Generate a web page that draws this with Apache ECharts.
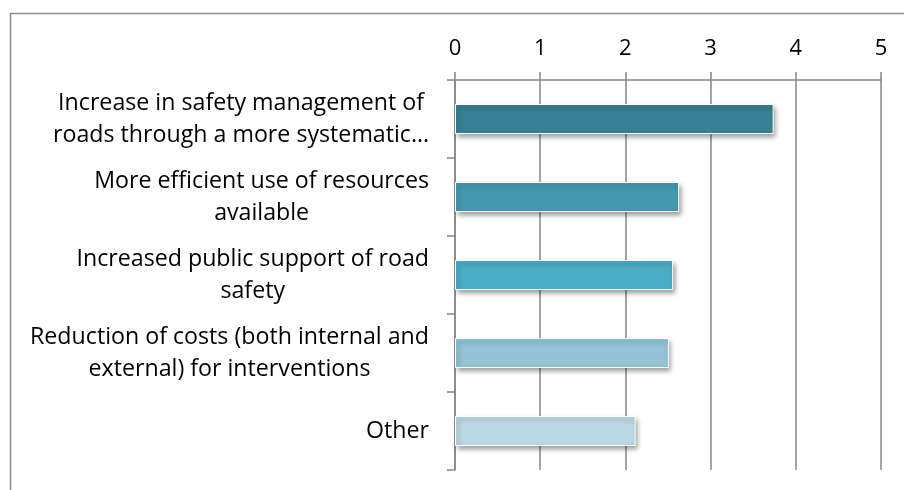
<!DOCTYPE html>
<html><head><meta charset="utf-8">
<script src="https://cdn.jsdelivr.net/npm/echarts@6/dist/echarts.min.js"></script>
<style>html,body{margin:0;padding:0;background:#fff}#c{width:904px;height:490px}</style>
</head><body><div id="c"></div>
<script>
const categories = [
  "Increase in safety management of\nroads through a more systematic…",
  "More efficient use of resources\navailable",
  "Increased public support of road\nsafety",
  "Reduction of costs (both internal and\nexternal) for interventions",
  "Other"
];
const values = [3.74, 2.63, 2.56, 2.51, 2.12];
const barColors = ["#378194", "#4498b0", "#4bacc6", "#93c3d5", "#bcd8e4"];
const xTicks = [0, 1, 2, 3, 4, 5];

const chart = echarts.init(document.getElementById('c'));
const FONT = 'Open Sans';
chart.setOption({
  animation: false,
  graphic: [{
    type: 'rect', shape: { x: 10.5, y: 13.5, width: 1000, height: 600 },
    style: { fill: 'none', stroke: '#8c8c8c', lineWidth: 1.5 }, silent: true
  }],
  grid: { left: 455, right: 23, top: 80, bottom: 20 },
  xAxis: {
    type: 'value', position: 'top', min: xTicks[0], max: xTicks[xTicks.length - 1], interval: 1,
    axisLine: { show: true, lineStyle: { color: '#868686', width: 1.5 } },
    axisTick: { show: true, length: 8, lineStyle: { color: '#868686', width: 1.5 } },
    splitLine: { show: true, lineStyle: { color: '#868686', width: 1.5 } },
    axisLabel: { color: '#000', fontFamily: FONT, fontSize: 22, margin: 20 }
  },
  yAxis: {
    type: 'category', inverse: true, data: categories,
    axisLine: { show: true, lineStyle: { color: '#868686', width: 1.5 } },
    axisTick: { show: true, length: 8, lineStyle: { color: '#868686', width: 1.5 } },
    axisLabel: {
      color: '#000', margin: 26, align: 'right',
      formatter: function (v) { return v.split('\n').map(s => '{c|' + s + '}').join('\n'); },
      rich: { c: { fontFamily: FONT, fontSize: 23.2, lineHeight: 32, align: 'center', color: '#000' } }
    }
  },
  series: [{
    type: 'bar', barWidth: 30,
    data: values.map((v, i) => ({ value: v, itemStyle: { color: barColors[i] } })),
    itemStyle: {
      borderColor: '#ffffff', borderWidth: 1,
      shadowColor: 'rgba(0,0,0,0.4)', shadowBlur: 5, shadowOffsetX: 2, shadowOffsetY: 3
    }
  }]
});
</script></body></html>
